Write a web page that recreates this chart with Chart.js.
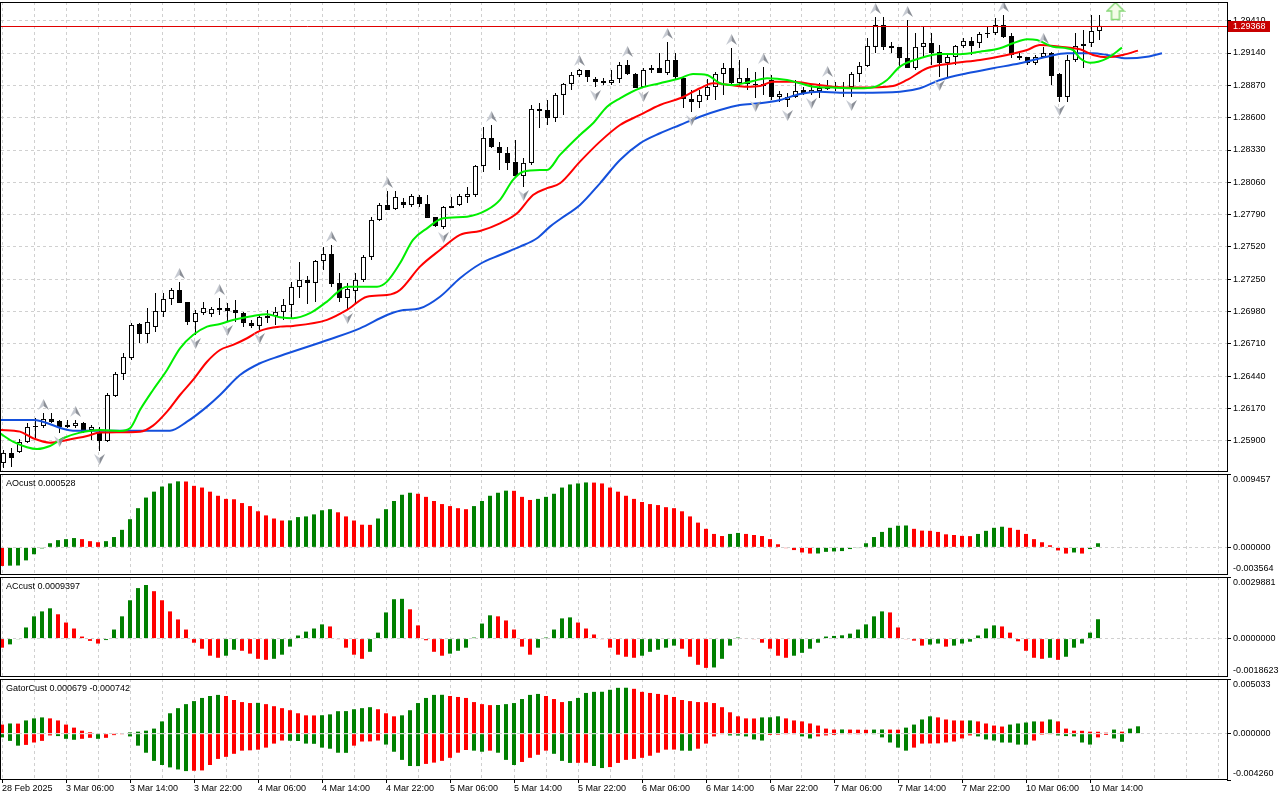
<!DOCTYPE html>
<html>
<head>
<meta charset="utf-8">
<script src="https://cdn.jsdelivr.net/npm/chart.js@4.4.1/dist/chart.umd.min.js"></script>
<style>
html,body{margin:0;padding:0;background:#fff;width:1280px;height:800px;overflow:hidden;}
canvas{position:absolute;left:0;display:block;}
</style>
</head>
<body>
<canvas id="cMain" width="1280" height="473" style="top:0px;width:1280px;height:473px"></canvas>
<canvas id="cAO" width="1280" height="101" style="top:474px;width:1280px;height:101px"></canvas>
<canvas id="cAC" width="1280" height="100" style="top:577px;width:1280px;height:100px"></canvas>
<canvas id="cGator" width="1280" height="121" style="top:679px;width:1280px;height:121px"></canvas>
<script>
// ---------------- DATA ----------------
const timeLabels = ['28 Feb 2025','3 Mar 06:00','3 Mar 14:00','3 Mar 22:00','4 Mar 06:00','4 Mar 14:00','4 Mar 22:00',
  '5 Mar 06:00','5 Mar 14:00','5 Mar 22:00','6 Mar 06:00','6 Mar 14:00','6 Mar 22:00','7 Mar 06:00','7 Mar 14:00',
  '7 Mar 22:00','10 Mar 06:00','10 Mar 14:00'];
const priceTicks = [1.25900,1.26170,1.26440,1.26710,1.26980,1.27250,1.27520,1.27790,1.28060,1.28330,1.28600,1.28870,1.29140,1.29410];
const priceRange = [1.25641, 1.29566];

const open = [
1.25716,1.25800,1.25808,1.25892,1.26017,1.26025,1.26084,1.26067,1.26034,1.26025,
1.26051,1.25992,1.25975,1.25900,1.26276,1.26460,1.26593,1.26877,1.26794,1.26852,
1.26978,1.27086,1.27161,1.27061,1.26894,1.26969,1.26961,1.27011,1.27011,1.26994,
1.26969,1.26886,1.26861,1.26927,1.26944,1.26978,1.27036,1.27186,1.27245,1.27220,
1.27403,1.27462,1.27220,1.27094,1.27153,1.27245,1.27437,1.27746,1.27871,1.27838,
1.27896,1.27871,1.27938,1.27879,1.27771,1.27687,1.27846,1.27871,1.27938,1.27955,
1.28197,1.28431,1.28355,1.28305,1.28230,1.28113,1.28222,1.28673,1.28664,1.28598,
1.28790,1.28882,1.28957,1.28998,1.28923,1.28907,1.28890,1.28923,1.29040,1.28965,
1.28856,1.28998,1.29015,1.28973,1.29082,1.28932,1.28756,1.28731,1.28781,1.28856,
1.28965,1.29015,1.28890,1.28932,1.28873,1.28882,1.28915,1.28773,1.28748,1.28773,
1.28832,1.28806,1.28823,1.28840,1.28848,1.28848,1.28856,1.28965,1.29032,1.29191,
1.29374,1.29199,1.29191,1.29099,1.29015,1.29191,1.29224,1.29149,1.29057,1.29107,
1.29199,1.29241,1.29224,1.29299,1.29307,1.29374,1.29282,1.29115,1.29107,1.29057,
1.29107,1.29140,1.28965,1.28773,1.29082,1.29199,1.29224,1.29324];
const high = [
1.25825,1.25842,1.25917,1.26051,1.26092,1.26134,1.26134,1.26076,1.26076,1.26076,
1.26059,1.26034,1.26017,1.26301,1.26476,1.26635,1.26886,1.26886,1.27011,1.27136,
1.27136,1.27178,1.27228,1.27061,1.26994,1.27061,1.27019,1.27094,1.27053,1.27078,
1.26978,1.26911,1.26952,1.26994,1.27019,1.27086,1.27228,1.27395,1.27278,1.27412,
1.27520,1.27537,1.27303,1.27220,1.27303,1.27453,1.27771,1.27888,1.27988,1.27988,
1.27930,1.27963,1.27955,1.27955,1.27771,1.27863,1.27938,1.27963,1.28021,1.28205,
1.28522,1.28539,1.28397,1.28355,1.28414,1.28264,1.28706,1.28723,1.28748,1.28806,
1.28890,1.28982,1.29007,1.28998,1.28940,1.28932,1.28998,1.29065,1.29082,1.28973,
1.29015,1.29040,1.29140,1.29232,1.29140,1.28940,1.28832,1.28832,1.28923,1.28982,
1.29057,1.29182,1.29082,1.29015,1.28982,1.29023,1.28957,1.28823,1.28806,1.28915,
1.28856,1.28873,1.28890,1.28915,1.28898,1.28898,1.28982,1.29065,1.29266,1.29441,
1.29441,1.29232,1.29191,1.29416,1.29307,1.29358,1.29307,1.29207,1.29124,1.29207,
1.29266,1.29274,1.29316,1.29358,1.29433,1.29458,1.29307,1.29149,1.29107,1.29124,
1.29191,1.29149,1.28973,1.29124,1.29307,1.29332,1.29458,1.29458];
const low = [
1.25675,1.25683,1.25800,1.25884,1.25925,1.26009,1.26051,1.25967,1.26009,1.26009,
1.25967,1.25909,1.25817,1.25892,1.26268,1.26410,1.26577,1.26719,1.26719,1.26810,
1.26936,1.27036,1.27053,1.26869,1.26785,1.26952,1.26936,1.26952,1.26894,1.26894,
1.26852,1.26844,1.26827,1.26886,1.26869,1.26911,1.26927,1.27094,1.27044,1.27061,
1.27328,1.27186,1.27061,1.26994,1.27044,1.27228,1.27412,1.27737,1.27829,1.27829,
1.27846,1.27854,1.27854,1.27763,1.27687,1.27671,1.27846,1.27863,1.27888,1.27938,
1.28147,1.28347,1.28163,1.28163,1.28097,1.28021,1.28205,1.28514,1.28539,1.28564,
1.28623,1.28832,1.28940,1.28898,1.28856,1.28873,1.28873,1.28890,1.28957,1.28848,
1.28848,1.28973,1.28973,1.28957,1.28915,1.28681,1.28648,1.28681,1.28748,1.28748,
1.28790,1.28873,1.28856,1.28832,1.28765,1.28790,1.28748,1.28731,1.28689,1.28765,
1.28790,1.28790,1.28765,1.28832,1.28823,1.28773,1.28773,1.28898,1.29023,1.29140,
1.29165,1.29140,1.29023,1.29015,1.28998,1.29099,1.29040,1.28940,1.28940,1.29040,
1.29182,1.29124,1.29182,1.29266,1.29291,1.29266,1.29099,1.29082,1.29040,1.29040,
1.29099,1.28873,1.28731,1.28731,1.29065,1.29015,1.29191,1.29249];
const close = [
1.25800,1.25758,1.25892,1.26017,1.26025,1.26084,1.26059,1.26017,1.26017,1.26051,
1.25975,1.26017,1.25900,1.26284,1.26460,1.26602,1.26869,1.26794,1.26894,1.26986,
1.27086,1.27161,1.27053,1.26894,1.26969,1.27011,1.27003,1.26994,1.26986,1.26969,
1.26886,1.26861,1.26936,1.26944,1.26978,1.27036,1.27186,1.27245,1.27220,1.27403,
1.27462,1.27211,1.27094,1.27170,1.27245,1.27437,1.27746,1.27871,1.27829,1.27938,
1.27871,1.27946,1.27879,1.27763,1.27696,1.27854,1.27863,1.27946,1.27963,1.28197,
1.28431,1.28355,1.28305,1.28222,1.28113,1.28222,1.28673,1.28656,1.28598,1.28790,
1.28882,1.28957,1.28998,1.28940,1.28898,1.28890,1.28915,1.29040,1.28965,1.28848,
1.28998,1.29015,1.28973,1.29082,1.28940,1.28756,1.28731,1.28790,1.28856,1.28965,
1.29015,1.28890,1.28932,1.28882,1.28882,1.28865,1.28773,1.28798,1.28773,1.28823,
1.28806,1.28832,1.28848,1.28848,1.28856,1.28856,1.28965,1.29032,1.29199,1.29374,
1.29191,1.29182,1.29099,1.29015,1.29191,1.29224,1.29140,1.29057,1.29107,1.29199,
1.29241,1.29199,1.29299,1.29307,1.29374,1.29274,1.29124,1.29099,1.29057,1.29107,
1.29140,1.28948,1.28773,1.29082,1.29199,1.29216,1.29324,1.29368];

const upFractals = [5,9,22,27,41,48,61,72,78,83,91,95,103,109,113,125,130];
const downFractals = [7,12,24,28,32,43,55,65,74,80,86,94,98,101,106,117,132];
const signalIdx = 139, signalPrice = 1.29491;

const jawX = [-0.44,3.69,8.69,12.06,20.81,22.94,25.44,27.06,29.56,32.06,34.56,40.81,44.56,47.94,49.56,52.06,54.56,57.06,59.56,62.06,64.56,66.69,68.31,69.56,72.06,74.56,77.06,79.56,82.06,84.56,87.06,89.56,92.06,94.56,97.06,99.56,102.06,104.56,107.06,112.06,114.56,117.06,120.44,123.69,127.06,130.44,132.94,136.19,137.94,140.44,142.94,144.81];
const jawY = [1.26076,1.26076,1.25986,1.25986,1.25986,1.26061,1.26187,1.26284,1.26451,1.26549,1.26610,1.26750,1.26841,1.26952,1.26988,1.27008,1.27105,1.27259,1.27378,1.27453,1.27523,1.27593,1.27690,1.27752,1.27871,1.28052,1.28247,1.28386,1.28470,1.28539,1.28608,1.28664,1.28706,1.28720,1.28748,1.28798,1.28817,1.28809,1.28809,1.28817,1.28846,1.28915,1.28971,1.29013,1.29054,1.29109,1.29138,1.29138,1.29124,1.29096,1.29109,1.29138];
const teethX = [-0.44,2.06,3.69,5.81,7.94,10.44,12.06,17.06,18.69,20.44,22.06,23.69,25.44,27.06,28.69,30.44,32.06,34.56,36.19,40.44,42.94,45.44,47.94,49.56,52.06,54.56,57.06,59.56,62.06,64.19,66.19,67.94,69.56,72.06,74.56,77.06,79.56,82.06,84.56,87.06,88.69,90.81,92.94,94.56,96.19,98.69,101.19,103.69,107.06,111.19,112.94,115.44,118.69,122.06,125.44,127.94,129.56,132.06,134.56,136.19,137.94,139.94,141.81];
const teethY = [1.25992,1.25978,1.25923,1.25886,1.25909,1.25942,1.25970,1.25978,1.26028,1.26145,1.26284,1.26410,1.26562,1.26660,1.26702,1.26758,1.26820,1.26855,1.26861,1.26911,1.26994,1.27105,1.27119,1.27161,1.27356,1.27495,1.27621,1.27654,1.27718,1.27802,1.27955,1.28011,1.28052,1.28233,1.28400,1.28539,1.28623,1.28706,1.28762,1.28846,1.28887,1.28873,1.28859,1.28865,1.28901,1.28901,1.28879,1.28859,1.28851,1.28865,1.28915,1.29013,1.29054,1.29082,1.29124,1.29165,1.29207,1.29193,1.29171,1.29124,1.29104,1.29124,1.29160];
const lipsX = [-0.44,1.19,2.94,4.19,5.81,7.44,9.56,12.06,14.56,15.81,17.06,18.69,20.44,22.06,23.69,25.44,27.06,28.69,31.19,32.94,34.56,36.19,38.31,40.44,42.94,46.69,47.94,49.56,51.19,52.94,54.94,57.94,60.44,62.06,63.69,64.94,67.06,67.94,69.56,72.06,73.69,75.44,77.06,79.56,82.06,84.56,86.19,87.94,89.56,91.19,93.69,95.44,97.94,99.56,101.19,103.69,107.06,108.69,110.44,112.06,114.56,117.06,119.56,122.06,124.56,126.19,127.94,129.19,131.19,133.69,134.56,135.81,137.94,139.81];
const lipsY = [1.25964,1.25894,1.25848,1.25833,1.25858,1.25923,1.25970,1.25992,1.25984,1.26006,1.26159,1.26326,1.26493,1.26674,1.26785,1.26855,1.26877,1.26911,1.26944,1.26958,1.26933,1.26925,1.26967,1.27064,1.27189,1.27189,1.27231,1.27384,1.27579,1.27676,1.27760,1.27773,1.27829,1.27913,1.28080,1.28149,1.28163,1.28163,1.28289,1.28456,1.28553,1.28692,1.28762,1.28846,1.28887,1.28929,1.28965,1.28957,1.28887,1.28873,1.28907,1.28929,1.28915,1.28887,1.28859,1.28851,1.28846,1.28854,1.28915,1.29026,1.29096,1.29132,1.29130,1.29151,1.29180,1.29221,1.29255,1.29249,1.29193,1.29165,1.29096,1.29059,1.29096,1.29185];

// oscillators: first value belongs to the bar just before the visible window
const aoValues = [-0.00230,
-0.00240,-0.00236,-0.00234,-0.00168,-0.00089,-0.00013,0.00053,0.00093,0.00106,0.00120,
0.00106,0.00080,0.00066,0.00080,0.00133,0.00226,0.00363,0.00505,0.00642,0.00718,
0.00784,0.00824,0.00851,0.00849,0.00793,0.00771,0.00718,0.00665,0.00625,0.00620,
0.00571,0.00532,0.00465,0.00412,0.00372,0.00346,0.00348,0.00390,0.00399,0.00425,
0.00478,0.00492,0.00452,0.00399,0.00346,0.00292,0.00290,0.00372,0.00492,0.00598,
0.00678,0.00704,0.00691,0.00651,0.00598,0.00558,0.00532,0.00505,0.00492,0.00532,
0.00598,0.00665,0.00704,0.00731,0.00729,0.00651,0.00611,0.00625,0.00651,0.00691,
0.00771,0.00811,0.00824,0.00837,0.00835,0.00824,0.00771,0.00718,0.00665,0.00625,
0.00585,0.00558,0.00545,0.00518,0.00505,0.00465,0.00399,0.00319,0.00239,0.00173,
0.00146,0.00173,0.00186,0.00173,0.00159,0.00146,0.00106,0.00040,-0.00010,-0.00035,
-0.00066,-0.00080,-0.00079,-0.00058,-0.00053,-0.00048,-0.00022,-0.00009,0.00053,0.00133,
0.00199,0.00252,0.00279,0.00282,0.00239,0.00216,0.00213,0.00199,0.00168,0.00159,
0.00148,0.00145,0.00173,0.00213,0.00252,0.00266,0.00252,0.00226,0.00173,0.00106,
0.00066,0.00027,-0.00040,-0.00080,-0.00066,-0.00080,-0.00022,0.000528];
const acValues = [-0.00030,
-0.00044,-0.00028,-0.00003,0.00054,0.00108,0.00132,0.00147,0.00118,0.00078,0.00049,
0.00010,-0.00011,-0.00024,-0.00007,0.00044,0.00108,0.00186,0.00245,0.00260,0.00230,
0.00186,0.00132,0.00093,0.00044,-0.00020,-0.00049,-0.00083,-0.00093,-0.00083,-0.00054,
-0.00059,-0.00073,-0.00098,-0.00103,-0.00098,-0.00078,-0.00039,0.00015,0.00034,0.00049,
0.00069,0.00059,-0.00003,-0.00044,-0.00078,-0.00098,-0.00064,0.00029,0.00127,0.00191,
0.00193,0.00142,0.00064,-0.00008,-0.00064,-0.00083,-0.00073,-0.00059,-0.00044,0.00005,
0.00073,0.00113,0.00108,0.00088,0.00044,-0.00039,-0.00078,-0.00044,0.00005,0.00044,
0.00098,0.00103,0.00078,0.00049,0.00020,-0.00003,-0.00044,-0.00078,-0.00088,-0.00093,
-0.00083,-0.00064,-0.00054,-0.00044,-0.00034,-0.00049,-0.00088,-0.00127,-0.00142,-0.00140,
-0.00098,-0.00034,0.00005,0.00003,-0.00003,-0.00020,-0.00049,-0.00083,-0.00093,-0.00083,
-0.00069,-0.00049,-0.00020,0.00010,0.00013,0.00016,0.00024,0.00044,0.00069,0.00108,
0.00132,0.00127,0.00054,-0.00003,-0.00010,-0.00034,-0.00029,-0.00024,-0.00039,-0.00034,
-0.00024,-0.00015,0.00015,0.00049,0.00064,0.00059,0.00029,-0.00013,-0.00059,-0.00093,
-0.00098,-0.00093,-0.00103,-0.00088,-0.00044,-0.00024,0.00029,0.0009397];
const gatorUp = [0.00090,
0.00084,0.00094,0.00093,0.00122,0.00141,0.00150,0.00141,0.00122,0.00084,0.00056,
0.00028,0.00013,0.00006,0.00004,0.00003,0.00002,0.00012,0.00019,0.00028,0.00047,
0.00113,0.00188,0.00235,0.00272,0.00300,0.00329,0.00347,0.00357,0.00347,0.00310,
0.00291,0.00282,0.00284,0.00272,0.00253,0.00235,0.00216,0.00188,0.00169,0.00168,
0.00170,0.00178,0.00207,0.00208,0.00225,0.00235,0.00244,0.00225,0.00188,0.00160,
0.00169,0.00216,0.00282,0.00329,0.00357,0.00358,0.00347,0.00338,0.00329,0.00291,
0.00272,0.00263,0.00264,0.00272,0.00282,0.00319,0.00357,0.00366,0.00347,0.00319,
0.00291,0.00300,0.00329,0.00375,0.00385,0.00386,0.00404,0.00422,0.00423,0.00413,
0.00385,0.00375,0.00366,0.00357,0.00338,0.00310,0.00300,0.00291,0.00290,0.00282,
0.00244,0.00197,0.00160,0.00141,0.00140,0.00150,0.00151,0.00160,0.00141,0.00122,
0.00113,0.00094,0.00075,0.00047,0.00038,0.00039,0.00038,0.00037,0.00036,0.00038,
0.00039,0.00038,0.00037,0.00056,0.00084,0.00131,0.00160,0.00150,0.00131,0.00122,
0.00121,0.00122,0.00113,0.00094,0.00075,0.00066,0.00084,0.00094,0.00103,0.00113,
0.00112,0.00131,0.00113,0.00047,0.00028,0.00027,0.00019,0.00018,0.00009,0.00038,
0.00019,0.00047,0.000679];
const gatorDown = [-0.00030,
-0.00034,-0.00066,-0.00110,-0.00103,-0.00081,-0.00066,-0.00016,-0.00022,-0.00047,-0.00056,
-0.00047,-0.00038,-0.00047,-0.00038,-0.00013,-0.00006,-0.00025,-0.00110,-0.00175,-0.00250,
-0.00288,-0.00310,-0.00329,-0.00344,-0.00341,-0.00338,-0.00288,-0.00232,-0.00213,-0.00185,
-0.00156,-0.00153,-0.00147,-0.00128,-0.00091,-0.00063,-0.00065,-0.00067,-0.00091,-0.00093,
-0.00128,-0.00138,-0.00175,-0.00176,-0.00110,-0.00072,-0.00071,-0.00063,-0.00100,-0.00166,
-0.00241,-0.00297,-0.00298,-0.00278,-0.00266,-0.00250,-0.00222,-0.00175,-0.00150,-0.00156,
-0.00166,-0.00156,-0.00175,-0.00241,-0.00288,-0.00260,-0.00222,-0.00194,-0.00156,-0.00185,
-0.00250,-0.00269,-0.00268,-0.00267,-0.00297,-0.00316,-0.00307,-0.00269,-0.00241,-0.00232,
-0.00222,-0.00203,-0.00175,-0.00147,-0.00146,-0.00156,-0.00157,-0.00138,-0.00091,-0.00025,
-0.00006,-0.00016,-0.00017,-0.00025,-0.00053,-0.00063,-0.00012,-0.00010,-0.00006,-0.00003,
-0.00025,-0.00044,-0.00025,-0.00016,-0.00012,-0.00006,-0.00003,-0.00002,-0.00004,-0.00006,
-0.00034,-0.00081,-0.00128,-0.00156,-0.00128,-0.00091,-0.00090,-0.00089,-0.00081,-0.00072,
-0.00044,-0.00016,-0.00025,-0.00053,-0.00063,-0.00081,-0.00082,-0.00100,-0.00101,-0.00063,
-0.00009,-0.00006,-0.00016,-0.00022,-0.00025,-0.00081,-0.00100,-0.00034,-0.00012,-0.00044,
-0.000742];
const aoRange = [-0.003564, 0.009457];
const acRange = [-0.0018623, 0.0029881];
const gatorRange = [-0.004260, 0.005033];

// ---------------- STYLE / HELPERS ----------------
const GREEN = '#008000', RED = '#ff0000', GRID = '#d0d0d0', NONE = 'rgba(0,0,0,0)';
const FONT = {family: 'Liberation Sans', size: 9};
const CSSFONT = '9px "Liberation Sans"';
Chart.defaults.font.family = 'Liberation Sans';
Chart.defaults.font.size = 9;
Chart.defaults.color = '#000';

const SPAN = 1226 / 8;          // visible bar span of the plot width
const MAIN_MIN = -0.3125, SUB_MIN = -0.125;

function zeroPad(s){ s.paddingTop = 0; s.paddingBottom = 0; s.paddingLeft = 0; s.paddingRight = 0; }
function labelAt(v){
  const r = Math.round(v);
  if (Math.abs(v - r) > 1e-6 || r % 8 !== 0) return null;
  return timeLabels[r / 8] || null;
}
function xAxis(min, gridShift, withLabels){
  return {
    type: 'linear', min: min, max: min + SPAN, offset: false, display: true,
    grid: { color: GRID, lineWidth: 1, offset: false, drawTicks: !!withLabels, tickLength: 3,
            tickColor: c => (withLabels && c.tick && labelAt(c.tick.value)) ? '#000' : NONE, tickBorderDash: [] },
    border: { display: false, dash: [3, 3] },
    ticks: { display: !!withLabels, autoSkip: false, maxRotation: 0, minRotation: 0, align: 'start',
             padding: 0, font: FONT, color: '#000', callback: v => labelAt(v) || '' },
    afterBuildTicks: s => { const t = []; for (let v = 0; v <= 152; v += 4) t.push({value: v + gridShift}); s.ticks = t; },
    afterFit: s => { s.height = withLabels ? 20 : 0; zeroPad(s); }
  };
}
function subY(range){
  return {
    type: 'linear', position: 'right', min: range[0], max: range[1], beginAtZero: false,
    afterBuildTicks: s => { s.ticks = [{value: range[0]}, {value: 0}, {value: range[1]}]; },
    ticks: { display: false },
    grid: { z: 1, color: c => (c.tick && c.tick.value === 0) ? GRID : NONE, tickColor: '#000', tickLength: 4, tickBorderDash: [] },
    border: { display: false, dash: [3, 3] },
    afterFit: s => { s.width = 53; zeroPad(s); }
  };
}
function trendColors(vals){
  const out = [];
  for (let k = 0; k < vals.length; k++){
    if (k === 0) { out.push(GREEN); continue; }
    out.push(vals[k] > vals[k-1] ? GREEN : (vals[k] < vals[k-1] ? RED : out[k-1]));
  }
  return out;
}
function absTrendColors(vals){
  const out = [];
  for (let k = 0; k < vals.length; k++){
    if (k === 0) { out.push(GREEN); continue; }
    const a = Math.abs(vals[k]), b = Math.abs(vals[k-1]);
    out.push(a > b ? GREEN : (a < b ? RED : out[k-1]));
  }
  return out;
}
function drawFrame(chart){
  const {ctx, chartArea: a} = chart;
  ctx.save();
  ctx.strokeStyle = '#000'; ctx.lineWidth = 1;
  ctx.strokeRect(a.left - 0.5, a.top + 0.5, a.right - a.left + 1, a.bottom - a.top - 1);
  ctx.restore();
}
function makeFractal(up){
  const c = document.createElement('canvas'); c.width = 11; c.height = 28;
  const g = c.getContext('2d');
  const top = up ? 0 : 17;
  const tipY = up ? top : top + 11, baseY = up ? top + 11 : top, notchY = up ? top + 7 : top + 4;
  g.beginPath(); g.moveTo(5.5, tipY); g.lineTo(0, baseY); g.lineTo(5.5, notchY); g.closePath();
  g.fillStyle = '#c6cad2'; g.fill();
  g.beginPath(); g.moveTo(5.5, tipY); g.lineTo(11, baseY); g.lineTo(5.5, notchY); g.closePath();
  g.fillStyle = '#8b8f97'; g.fill();
  return c;
}
function makeSignal(){
  const c = document.createElement('canvas'); c.width = 20; c.height = 20;
  const g = c.getContext('2d');
  g.beginPath();
  g.moveTo(10, 1.5); g.lineTo(18.5, 10); g.lineTo(14, 10); g.lineTo(14, 18.5);
  g.lineTo(6, 18.5); g.lineTo(6, 10); g.lineTo(1.5, 10); g.closePath();
  g.fillStyle = '#f4fce8'; g.fill();
  g.strokeStyle = '#88d878'; g.lineWidth = 1.5; g.stroke();
  return c;
}
const common = { responsive: false, maintainAspectRatio: false, animation: false, devicePixelRatio: 1, events: [],
  plugins: { legend: {display: false}, tooltip: {enabled: false} } };

// ---------------- MAIN PRICE CHART ----------------
const idx = open.map((_, i) => i);
const bodyColors = idx.map(i => close[i] >= open[i] ? '#ffffff' : '#000000');
const lastClose = close[close.length - 1];

new Chart(document.getElementById('cMain'), {
  type: 'bar',
  data: { datasets: [
    { type: 'line', data: upFractals.map(i => ({x: i, y: high[i]})), showLine: false, pointStyle: makeFractal(true), pointRadius: 5, order: 0 },
    { type: 'line', data: downFractals.map(i => ({x: i, y: low[i]})), showLine: false, pointStyle: makeFractal(false), pointRadius: 5, order: 0 },
    { type: 'line', data: [{x: signalIdx, y: signalPrice}], showLine: false, pointStyle: makeSignal(), pointRadius: 5, order: 0 },
    { type: 'line', data: lipsX.map((x, k) => ({x: x, y: lipsY[k]})), borderColor: '#00ee00', borderWidth: 2, pointRadius: 0, cubicInterpolationMode: 'monotone', order: 1 },
    { type: 'line', data: teethX.map((x, k) => ({x: x, y: teethY[k]})), borderColor: '#ff0000', borderWidth: 2, pointRadius: 0, cubicInterpolationMode: 'monotone', order: 1 },
    { type: 'line', data: jawX.map((x, k) => ({x: x, y: jawY[k]})), borderColor: '#1450dc', borderWidth: 2, pointRadius: 0, cubicInterpolationMode: 'monotone', order: 1 },
    { type: 'bar', data: idx.map(i => ({x: i, y: [open[i], close[i]]})), backgroundColor: bodyColors, borderColor: '#000',
      borderWidth: 1, borderSkipped: false, barThickness: 5, grouped: false, minBarLength: 1, inflateAmount: 0, order: 5 },
    { type: 'bar', data: idx.map(i => ({x: i, y: [low[i], high[i]]})), backgroundColor: '#000', borderWidth: 0,
      barThickness: 1, grouped: false, inflateAmount: 0, order: 6 }
  ]},
  options: Object.assign({}, common, {
    layout: { autoPadding: false, padding: {left: 1, top: 2, right: 0, bottom: 1} },
    scales: {
      x: xAxis(MAIN_MIN, -0.1875, false),
      y: { type: 'linear', position: 'right', min: priceRange[0], max: priceRange[1], beginAtZero: false,
           afterBuildTicks: s => { s.ticks = priceTicks.map(v => ({value: v})); },
           ticks: { callback: v => Number(v).toFixed(5), font: FONT, color: '#000', padding: 2, autoSkip: false, crossAlign: 'near' },
           grid: { color: GRID, tickColor: '#000', tickLength: 4, tickBorderDash: [] },
           border: { display: false, dash: [3, 3] },
           afterFit: s => { s.width = 53; zeroPad(s); } }
    }
  }),
  plugins: [{
    id: 'mainDeco',
    afterDatasetsDraw(chart){
      const {ctx, chartArea: a, scales} = chart;
      const y = Math.round(scales.y.getPixelForValue(lastClose)) + 0.5;
      ctx.save(); ctx.strokeStyle = '#e00000'; ctx.lineWidth = 1;
      ctx.beginPath(); ctx.moveTo(a.left, y); ctx.lineTo(a.right, y); ctx.stroke(); ctx.restore();
    },
    afterDraw(chart){
      drawFrame(chart);
      const {ctx, chartArea: a, scales} = chart;
      const y = Math.round(scales.y.getPixelForValue(lastClose));
      ctx.save();
      ctx.fillStyle = '#c80000'; ctx.fillRect(a.right + 1, y - 5, 42, 11);
      ctx.fillStyle = '#ffffff'; ctx.font = CSSFONT; ctx.textBaseline = 'middle'; ctx.textAlign = 'left';
      ctx.fillText(lastClose.toFixed(5), a.right + 6, y + 0.5);
      ctx.restore();
    }
  }]
});

// ---------------- SUB WINDOWS ----------------
function subPlugin(titleText, range, decimals){
  return {
    id: 'subDeco',
    afterDraw(chart){
      drawFrame(chart);
      const {ctx, chartArea: a, scales} = chart;
      ctx.save();
      ctx.font = CSSFONT; ctx.fillStyle = '#000'; ctx.textBaseline = 'middle'; ctx.textAlign = 'left';
      ctx.fillText(titleText, a.left + 5, a.top + 9.5);
      [range[1], 0, range[0]].forEach(v => {
        let y = scales.y.getPixelForValue(v);
        y = Math.min(Math.max(y, a.top + 6), a.bottom - 6);
        ctx.fillText(v.toFixed(decimals), a.right + 6, y);
      });
      ctx.restore();
    }
  };
}
function histData(vals){ return vals.map((v, k) => ({x: k - 1, y: v})); }
function histSet(vals, colors){
  return { type: 'bar', data: histData(vals), backgroundColor: colors, borderWidth: 0, barThickness: 4, grouped: false, inflateAmount: 0 };
}
const subLayout = { autoPadding: false, padding: {left: 1, top: 0, right: 0, bottom: 0} };

new Chart(document.getElementById('cAO'), {
  type: 'bar',
  data: { datasets: [ histSet(aoValues, trendColors(aoValues)) ] },
  options: Object.assign({}, common, {
    layout: subLayout,
    scales: { x: xAxis(SUB_MIN, 0, false), y: subY(aoRange) }
  }),
  plugins: [ subPlugin('AOcust ' + aoValues[aoValues.length - 1].toFixed(6), aoRange, 6) ]
});

new Chart(document.getElementById('cAC'), {
  type: 'bar',
  data: { datasets: [ histSet(acValues, trendColors(acValues)) ] },
  options: Object.assign({}, common, {
    layout: subLayout,
    scales: { x: xAxis(SUB_MIN, 0, false), y: subY(acRange) }
  }),
  plugins: [ subPlugin('ACcust ' + acValues[acValues.length - 1].toFixed(7), acRange, 7) ]
});

new Chart(document.getElementById('cGator'), {
  type: 'bar',
  data: { datasets: [
    histSet(gatorUp, absTrendColors(gatorUp)),
    histSet(gatorDown, absTrendColors(gatorDown))
  ]},
  options: Object.assign({}, common, {
    layout: subLayout,
    scales: { x: xAxis(SUB_MIN, 0, true), y: subY(gatorRange) }
  }),
  plugins: [ subPlugin('GatorCust ' + gatorUp[gatorUp.length - 1].toFixed(6) + ' ' + gatorDown[gatorDown.length - 1].toFixed(6), gatorRange, 6) ]
});
</script>
</body>
</html>
